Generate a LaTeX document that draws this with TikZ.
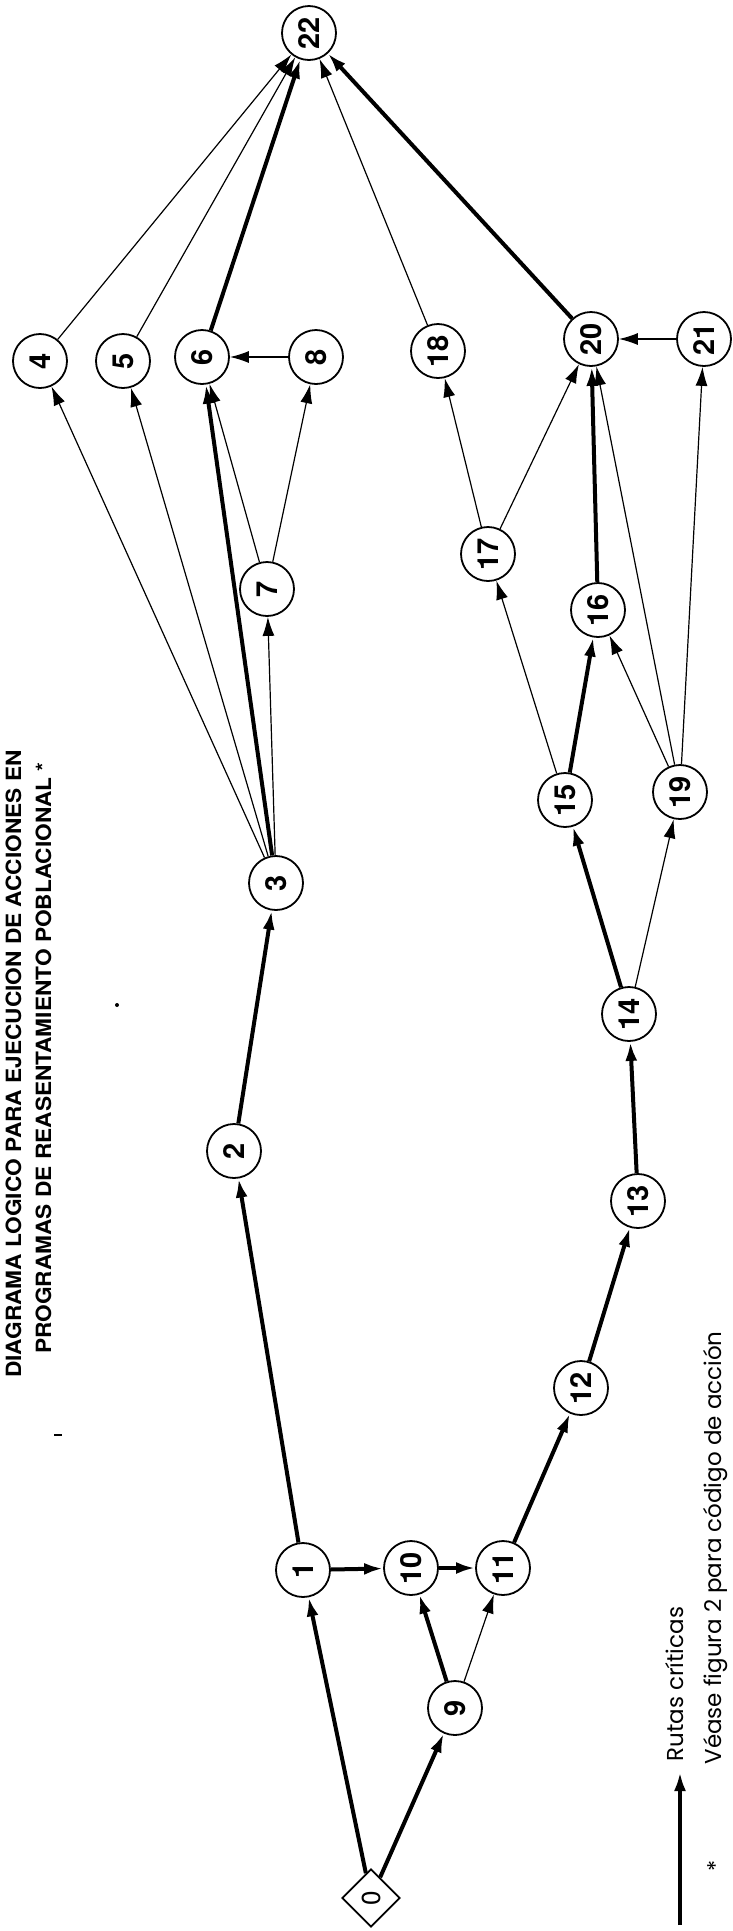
\documentclass[tikz,border=0pt]{standalone}
\usepackage{fontspec}
\setmainfont{TeX Gyre Heros}
\newfontfamily\legfont{Poppins}
\usetikzlibrary{arrows.meta,shapes.geometric}
\begin{document}
\begin{tikzpicture}[x=1pt, y=-1pt, main/.style = {draw, circle, line width=1.8pt, minimum size=54pt, inner sep=0pt, rotate=90, font=\fontsize{29}{29}\selectfont\bfseries},
			first/.style={draw, diamond, line width=1.8pt, minimum size=58pt, inner sep=0pt, rotate=90, font=\fontsize{26}{26}\selectfont},
			crit/.style={line width=4pt, -{Latex[length=19pt,width=12pt]}},
			norm/.style={line width=1.2pt, -{Latex[length=19pt,width=12pt]}},
			letter/.style={rotate=90, anchor=base west, font=\legfont\fontsize{23}{23}\selectfont}]
			
			\useasboundingbox[fill=white] (0,0) rectangle (732,1931);
			
			\node[first] (0) at (371,1898) {0};
			\node[main] (1) at (303,1570) {1};
			\node[main] (2) at (234,1151) {2};
			\node[main] (3) at (276,883) {3};
			\node[main] (4) at (40,361) {4};
			\node[main] (5) at (123,361) {5};
			\node[main] (6) at (202,357) {6};
			\node[main] (7) at (267,589) {7};
			\node[main] (8) at (316,357) {8};
			\node[main] (9) at (455,1708) {9};
			\node[main] (10) at (411,1568) {10};
			\node[main] (11) at (503,1568) {11};
			\node[main] (12) at (581,1388) {12};
			\node[main] (13) at (638,1201) {13};
			\node[main] (14) at (629,1014) {14};
			\node[main] (15) at (565,800) {15};
			\node[main] (16) at (598,610) {16};
			\node[main] (17) at (488,554) {17};
			\node[main] (18) at (438,351) {18};
			\node[main] (19) at (680,792) {19};
			\node[main] (20) at (591,339) {20};
			\node[main] (21) at (704,339) {21};
			\node[main] (22) at (309,33) {22};
			
			\draw[crit] (0) to (1);
			\draw[crit] (0) to (9);
			\draw[crit] (1) to (2);
			\draw[crit] (1) to (10);
			\draw[crit] (9) to (10);
			\draw[norm] (9) to (11);
			\draw[crit] (10) to (11);
			\draw[crit] (11) to (12);
			\draw[crit] (12) to (13);
			\draw[crit] (13) to (14);
			\draw[crit] (14) to (15);
			\draw[norm] (14) to (19);
			\draw[crit] (15) to (16);
			\draw[norm] (15) to (17);
			\draw[norm] (19) to (16);
			\draw[norm] (19) to (20);
			\draw[norm] (19) to (21);
			\draw[crit] (16) to (20);
			\draw[norm] (17) to (18);
			\draw[norm] (17) to (20);
			\draw[norm] (21) to (20);
			\draw[crit] (20) to (22);
			\draw[norm] (18) to (22);
			\draw[crit] (2) to (3);
			\draw[norm] (3) to (4);
			\draw[norm] (3) to (5);
			\draw[crit] (3) to (6);
			\draw[norm] (3) to (7);
			\draw[norm] (7) to (6);
			\draw[norm] (7) to (8);
			\draw[norm] (8) to (6);
			\draw[crit] (6) to (22);
			\draw[norm] (5) to (22);
			\draw[norm] (4) to (22);
			
			% titulo
			\node[rotate=90, anchor=base, font=\fontsize{21}{21}\selectfont\bfseries] (t1) at (21,1064) {\scalebox{1.08}[1]{DIAGRAMA LOGICO PARA EJECUCION DE ACCIONES EN}};
			\node[rotate=90, anchor=base, font=\fontsize{21}{21}\selectfont\bfseries] (t2) at (51,1058) {\scalebox{1.08}[1]{PROGRAMAS DE REASENTAMIENTO POBLACIONAL *}};
			
			% leyenda
			\coordinate (lt) at (680,1925);
			\coordinate (lh) at (680,1772);
			\draw[crit] (lt) to (lh);
			\node[letter] (rc) at (683,1765) {Rutas críticas};
			\node[letter] (vf) at (721,1768) {Véase figura 2 para código de acción};
			\node[rotate=90, font=\legfont\fontsize{23}{23}\selectfont] (ast) at (716,1866) {*};
			
			\fill (117,1005) circle (2);
			\fill (54,1434) rectangle (62,1436);
			
		\end{tikzpicture}
\end{document}
